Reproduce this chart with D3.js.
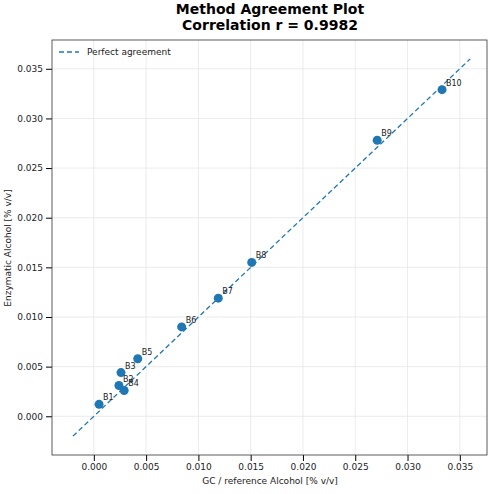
<!DOCTYPE html><html><head><script src="https://cdn.jsdelivr.net/npm/d3@7"></script>
<style>body{margin:0;background:#fff}text{font-family:"DejaVu Sans",sans-serif}</style></head><body><svg width="494" height="494"></svg>
<script>
const labels=["B1","B2","B3","B4","B5","B6","B7","B8","B9","B10"];
const gcValues=[0.0005,0.0024,0.0026,0.0029,0.0042,0.0084,0.0119,0.0151,0.0271,0.0333];
const enzValues=[0.0012,0.0031,0.0044,0.0026,0.0058,0.0090,0.0119,0.0155,0.0278,0.0329];
const tickValues=[0,0.005,0.01,0.015,0.02,0.025,0.03,0.035];
const lineRange=[-0.002,0.036];
const svg=d3.select("svg");
const L=52,R=487,T=40,B=455;
const x=d3.scaleLinear().domain([-0.0040,0.0376]).range([L,R]);
const y=d3.scaleLinear().domain([-0.0039,0.0379]).range([B,T]);
const g=svg.append("g");
tickValues.forEach(t=>{
 g.append("line").attr("x1",x(t)).attr("x2",x(t)).attr("y1",T).attr("y2",B).attr("stroke","#e6e6e6").attr("stroke-width",0.8);
 g.append("line").attr("y1",y(t)).attr("y2",y(t)).attr("x1",L).attr("x2",R).attr("stroke","#e6e6e6").attr("stroke-width",0.8);
});
svg.append("g").attr("transform",`translate(0,${B})`).call(d3.axisBottom(x).tickValues(tickValues).tickFormat(d3.format(".3f")).tickSizeOuter(0)).call(a=>{a.select(".domain").remove();a.selectAll("text").attr("font-size",9).attr("fill","#222");});
svg.append("g").attr("transform",`translate(${L},0)`).call(d3.axisLeft(y).tickValues(tickValues).tickFormat(d3.format(".3f")).tickSizeOuter(0)).call(a=>{a.select(".domain").remove();a.selectAll("text").attr("font-size",9).attr("fill","#222");});
svg.append("rect").attr("x",L).attr("y",T).attr("width",R-L).attr("height",B-T).attr("fill","none").attr("stroke","#333").attr("stroke-width",0.8);
svg.append("line").attr("x1",x(lineRange[0])).attr("y1",y(lineRange[0])).attr("x2",x(lineRange[1])).attr("y2",y(lineRange[1])).attr("stroke","#1f77b4").attr("stroke-width",1.3).attr("stroke-dasharray","5,3");
gcValues.forEach((v,i)=>{
 svg.append("circle").attr("cx",x(v)).attr("cy",y(enzValues[i])).attr("r",4.5).attr("fill","#1f77b4");
 svg.append("text").attr("x",x(v)+4).attr("y",y(enzValues[i])-4).attr("font-size",8).attr("fill","#222").text(labels[i]);
});
svg.append("line").attr("x1",59).attr("x2",79).attr("y1",52).attr("y2",52).attr("stroke","#1f77b4").attr("stroke-width",1.3).attr("stroke-dasharray","5,3");
svg.append("text").attr("x",87).attr("y",55).attr("font-size",9).attr("fill","#222").text("Perfect agreement");
svg.append("text").attr("x",270).attr("y",14).attr("text-anchor","middle").attr("font-size",14).attr("font-weight","bold").text("Method Agreement Plot");
svg.append("text").attr("x",270).attr("y",30).attr("text-anchor","middle").attr("font-size",14).attr("font-weight","bold").text("Correlation r = 0.9982");
svg.append("text").attr("x",270).attr("y",484).attr("text-anchor","middle").attr("font-size",9).attr("fill","#222").text("GC / reference Alcohol [% v/v]");
svg.append("text").attr("transform","translate(11,248) rotate(-90)").attr("text-anchor","middle").attr("font-size",9).attr("fill","#222").text("Enzymatic Alcohol [% v/v]");
</script></body></html>
